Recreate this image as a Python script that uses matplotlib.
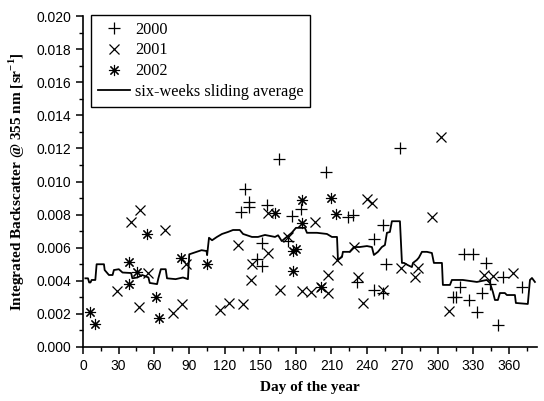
#!/usr/bin/env python3
"""Integrated backscatter at 355 nm over the day of year, 2000-2002, with sliding average."""
import matplotlib
matplotlib.use("Agg")
import matplotlib.pyplot as plt
from matplotlib.ticker import MultipleLocator, FormatStrFormatter

# values, backscatter in units of 1e-3 sr^-1
days_2000 = [165.6, 205.4, 136.9, 140.3, 140.3, 133.5, 155.5, 184.2, 176.6, 224.0, 228.1,
             253.5, 245.9, 256.0, 151.2, 147.1, 151.2, 173.2, 231.6, 245.9, 253.5, 267.9,
             322.0, 329.6, 340.5, 344.0, 354.9, 371.0, 318.6, 312.7, 315.2, 326.2, 337.2,
             332.9, 350.7]
vals_2000 = [11.36, 10.57, 9.55, 8.76, 8.46, 8.16, 8.58, 8.34, 7.91, 7.85, 7.98,
             7.37, 6.53, 5.02, 6.28, 5.32, 4.89, 6.40, 3.93, 3.44, 3.26, 12.02,
             5.62, 5.62, 5.08, 3.81, 4.23, 3.63, 3.63, 3.02, 3.02, 2.84, 3.26,
             2.11, 1.33]

days_2001 = [48.2, 40.6, 69.3, 28.7, 54.9, 47.3, 76.1, 83.7, 87.0, 115.7, 123.4, 135.3,
             131.0, 156.3, 142.8, 141.9, 166.5, 185.0, 192.7, 201.1, 207.1, 207.1, 196.1,
             173.2, 156.3, 240.0, 244.2, 229.0, 232.4, 236.6, 214.7, 253.5, 302.6, 294.9,
             268.7, 283.1, 280.5, 309.3, 338.9, 346.5, 363.4]
vals_2001 = [8.28, 7.55, 7.07, 3.38, 4.47, 2.42, 2.05, 2.60, 5.02, 2.24, 2.66, 2.60,
             6.16, 5.68, 5.02, 4.05, 3.44, 3.38, 3.32, 3.63, 3.26, 4.35, 7.55,
             6.65, 8.10, 8.94, 8.70, 6.04, 4.23, 2.66, 5.26, 3.44, 12.69, 7.85,
             4.77, 4.77, 4.23, 2.18, 4.35, 4.29, 4.47]

days_2002 = [5.9, 10.1, 38.8, 38.8, 45.6, 54.1, 61.7, 64.2, 82.9, 104.8, 162.3, 177.4,
             177.4, 180.0, 185.0, 185.0, 201.1, 209.6, 213.8]
vals_2002 = [2.11, 1.39, 5.14, 3.81, 4.53, 6.83, 3.02, 1.75, 5.38, 5.02, 8.10, 4.59,
             5.80, 5.92, 8.88, 7.49, 3.63, 9.00, 8.04]

# six-weeks sliding average (breakpoints of the stepped curve)
avg_days = [2, 4.2, 5.2, 6.3, 7.3, 10.4, 11.5, 17.7, 18.3, 21.9, 25.0, 26.1, 30.3, 33.4,
            40.7, 41.7, 45.9, 50.1, 55.3, 56.4, 62.6, 63.7, 65.8, 69.9, 71.0, 78.3, 84.5,
            88.7, 89.8, 96.0, 100.2, 104.4, 104.9, 106.5, 109.1, 113.2, 117.5, 122.5,
            126.8, 132.5, 135.3, 142.8, 147.9, 153.8, 162.3, 164.9, 168.0, 172.2, 176.4,
            180.0, 187.6, 189.3, 197.8, 206.2, 210.4, 214.7, 215.5, 218.9, 219.7, 225.4,
            229.0, 233.8, 240.0, 244.2, 245.9, 249.3, 252.6, 255.2, 256.9, 259.4, 261.1,
            267.9, 269.6, 271.4, 274.5, 278.0, 278.9, 282.2, 283.9, 286.5, 290.7, 294.9,
            296.6, 303.4, 304.2, 310.2, 311.8, 321.1, 332.9, 341.3, 344.0, 346.5, 348.2,
            350.7, 352.4, 356.6, 358.3, 365.1, 365.9, 376.0, 377.8, 379.5, 382.0]
avg_vals = [4.15, 4.15, 3.9, 3.9, 4.05, 4.05, 5.0, 5.0, 4.65, 4.35, 4.35, 4.65, 4.7,
            4.5, 4.47, 4.15, 4.2, 4.35, 4.2, 3.87, 3.8, 4.15, 4.7, 4.7, 4.15, 4.1,
            4.2, 4.1, 5.6, 5.75, 5.85, 5.8, 5.55, 6.6, 6.45, 6.65, 6.83, 6.95, 7.07,
            7.07, 6.83, 6.65, 6.65, 6.77, 6.65, 6.75, 6.4, 6.65, 6.9, 7.2, 7.2, 6.9,
            6.9, 6.83, 6.65, 6.65, 5.26, 5.44, 5.75, 5.75, 6.04, 6.04, 6.1, 6.04,
            5.56, 5.75, 6.04, 6.16, 6.9, 6.95, 7.6, 7.6, 5.08, 5.08, 4.95, 4.83,
            5.08, 5.26, 5.4, 5.75, 5.75, 5.68, 5.08, 5.08, 3.75, 3.75, 4.05, 4.05,
            3.93, 4.05, 3.87, 3.32, 2.84, 2.84, 3.26, 3.26, 3.14, 3.14, 2.66, 2.6,
            4.05, 4.17, 3.93]

SERIF = "Liberation Serif"
SANS = "Liberation Sans"


def scaled(vals):
    return [v * 1e-3 for v in vals]


def main():
    fig = plt.figure(figsize=(5.44, 4.01), dpi=100)
    ax = fig.add_axes([0.1526, 0.1347, 0.8344, 0.8253])

    ax.plot(days_2000, scaled(vals_2000), ls="none", marker="+", ms=8, mew=0.9,
            color="black", label="2000")
    ax.plot(days_2001, scaled(vals_2001), ls="none", marker="x", ms=7.5, mew=0.9,
            color="black", label="2001")
    ax.plot(days_2002, scaled(vals_2002), ls="none", marker=(8, 2, 0), ms=8, mew=0.8,
            color="black", label="2002")
    ax.plot(avg_days, scaled(avg_vals), color="black", lw=1.3,
            label="six-weeks sliding average")

    ax.set_xlim(0, 383.7)
    ax.set_ylim(0, 0.020)
    ax.xaxis.set_major_locator(MultipleLocator(30))
    ax.xaxis.set_minor_locator(MultipleLocator(15))
    ax.yaxis.set_major_locator(MultipleLocator(0.002))
    ax.yaxis.set_minor_locator(MultipleLocator(0.001))
    ax.yaxis.set_major_formatter(FormatStrFormatter("%.3f"))

    for side in ("top", "right"):
        ax.spines[side].set_visible(False)
    for side in ("left", "bottom"):
        ax.spines[side].set_linewidth(1.2)
    ax.tick_params(which="major", direction="out", length=5, width=1.1)
    ax.tick_params(which="minor", direction="out", length=3, width=1.0)
    for lab in ax.get_xticklabels() + ax.get_yticklabels():
        lab.set_fontfamily(SANS)
        lab.set_fontsize(10)

    ax.set_xlabel("Day of the year", fontfamily=SERIF, fontweight="bold", fontsize=11,
                  labelpad=6)
    ax.set_ylabel("Integrated Backscatter @ 355 nm [sr$^{\\mathregular{-1}}$]",
                  fontfamily=SERIF, fontweight="bold", fontsize=11, labelpad=7)

    leg = ax.legend(loc="upper left", bbox_to_anchor=(0.018, 1.003),
                    prop={"family": SERIF, "size": 11.7}, fancybox=False,
                    edgecolor="black", framealpha=1, borderpad=0.4,
                    labelspacing=0.3, handlelength=2.0, handletextpad=0.3,
                    borderaxespad=0)
    leg.get_frame().set_linewidth(1.0)

    fig.savefig("out.png", dpi=100)


if __name__ == "__main__":
    main()
